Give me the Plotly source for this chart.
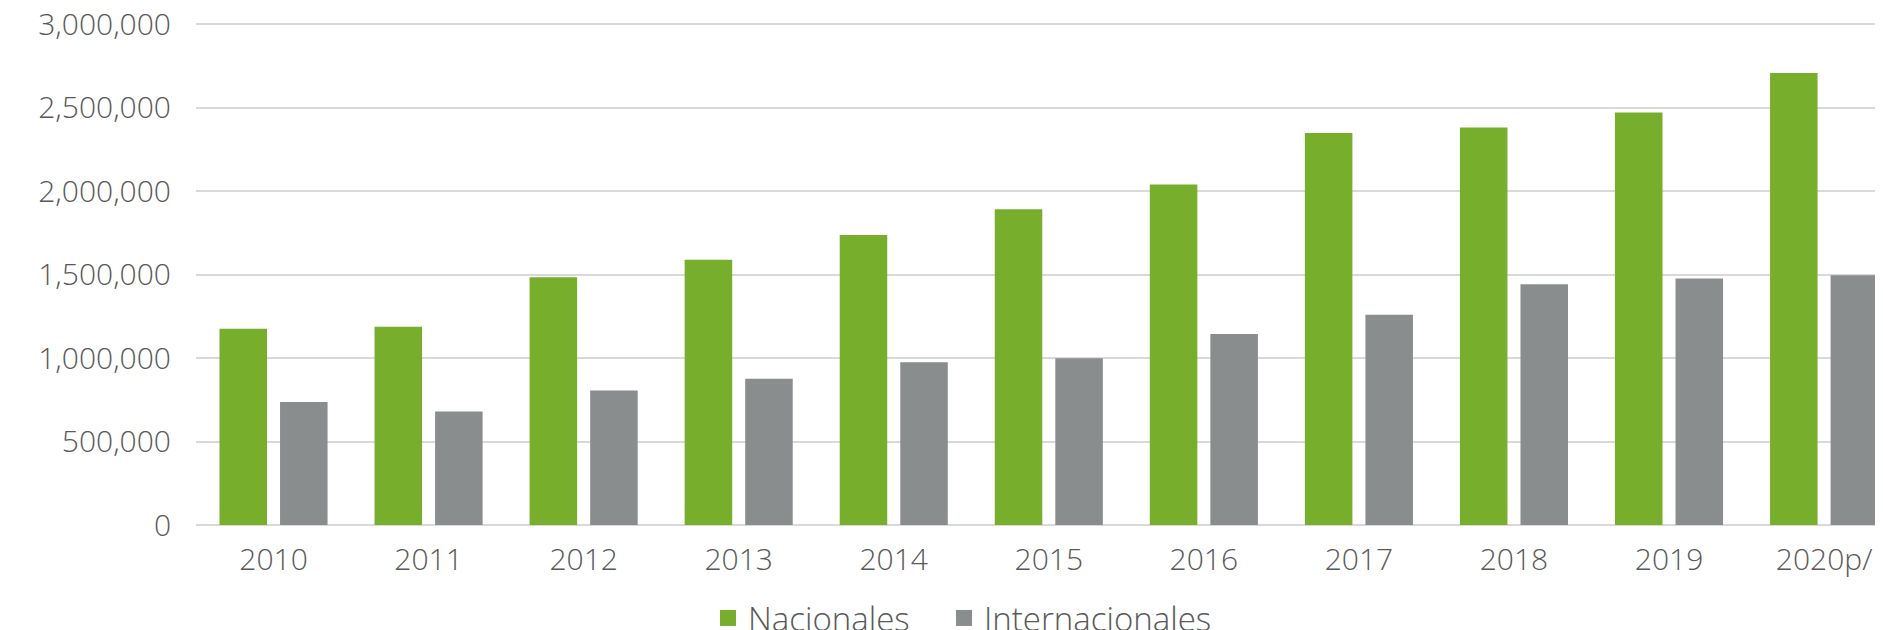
import plotly.graph_objects as go

years = ["2010", "2011", "2012", "2013", "2014", "2015", "2016", "2017", "2018", "2019", "2020p/"]
nacionales = [1175000, 1187000, 1483000, 1589000, 1736000, 1890000, 2039000, 2347000, 2381000, 2470000, 2706000]
internacionales = [737000, 679000, 806000, 876000, 975000, 999000, 1144000, 1259000, 1442000, 1476000, 1495000]
y_ticks = [0, 500000, 1000000, 1500000, 2000000, 2500000, 3000000]

GREEN = "#77AF2D"
GRAY = "#8A8D8E"
TEXT = "#595959"
FONT = "Open Sans"

# page body adds an 8px margin, so the figure is 8px smaller than the window
W, H = 1875, 622

fig = go.Figure()
fig.add_trace(go.Bar(name="Nacionales", x=years, y=nacionales, showlegend=False,
                     marker=dict(color=GREEN, line=dict(width=0))))
fig.add_trace(go.Bar(name="Internacionales", x=years, y=internacionales, showlegend=False,
                     marker=dict(color=GRAY, line=dict(width=0))))
# legend entries (square swatches), one legend each for exact spacing
fig.add_trace(go.Scatter(name="Nacionales", x=[None], y=[None], mode="markers", legend="legend",
                         marker=dict(symbol="square", size=16, color=GREEN)))
fig.add_trace(go.Scatter(name="Internacionales", x=[None], y=[None], mode="markers", legend="legend2",
                         marker=dict(symbol="square", size=16, color=GRAY)))

leg_common = dict(orientation="h", xref="container", yref="container", xanchor="left",
                  y=1 - 582 / H, yanchor="top",
                  font=dict(family=FONT, size=33, color=TEXT, weight=300),
                  itemclick=False, itemdoubleclick=False, bgcolor="rgba(0,0,0,0)")

fig.update_layout(
    width=W, height=H,
    margin=dict(l=188, r=0, t=14, b=105, autoexpand=False),
    paper_bgcolor="white", plot_bgcolor="white",
    barmode="group", bargap=0.219, bargroupgap=0.215,
    font=dict(family=FONT, color=TEXT, size=30, weight=300),
    showlegend=True,
    legend=dict(x=700 / W, **leg_common),
    legend2=dict(x=936 / W, **leg_common),
)
fig.update_xaxes(type="category", range=[-0.5, 10.38], showgrid=False, showline=False,
                 tickfont=dict(family=FONT, size=30, color=TEXT, weight=300), ticks="",
                 ticklabelstandoff=14)
fig.update_yaxes(range=[0, 3012000], tickvals=y_ticks, tickformat=",", showgrid=True,
                 gridcolor="#D9D9D9", gridwidth=2, zeroline=True, zerolinecolor="#D9D9D9", zerolinewidth=2,
                 showline=False, ticks="", tickfont=dict(family=FONT, size=30, color=TEXT, weight=300),
                 ticklabelstandoff=24, ticklabeloverflow="allow")

fig.write_html("out.html")
